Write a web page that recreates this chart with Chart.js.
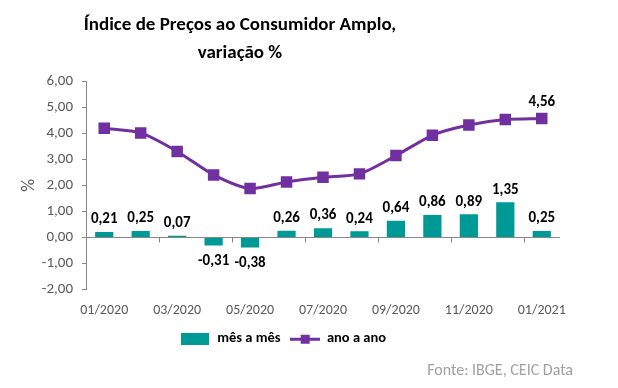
<!DOCTYPE html>
<html>
<head>
<meta charset="utf-8">
<script src="https://cdn.jsdelivr.net/npm/chart.js@4.4.0/dist/chart.umd.min.js"></script>
<style>
  body { margin: 0; background: #fff; }
  #wrap { position: relative; width: 618px; height: 388px; }
  #titulo { position: absolute; left: 40px; width: 400px; top: 10px; text-align: center;
            font-family: "Carlito", "Lato", sans-serif; font-weight: bold; font-size: 19px; line-height: 28px; color: #000; }
  #fonte { position: absolute; right: 45px; top: 360px; font-family: "Carlito", "Lato", sans-serif; font-size: 16px; color: #a0a0a0; }
</style>
</head>
<body>
<div id="wrap">
  <canvas id="ipca" width="618" height="388"></canvas>
  <div id="titulo">Índice de Preços ao Consumidor Amplo,<br>variação %</div>
  <div id="fonte">Fonte: IBGE, CEIC Data</div>
</div>
<script>
'use strict'

const meses = ['01/2020','02/2020','03/2020','04/2020','05/2020','06/2020','07/2020','08/2020','09/2020','10/2020','11/2020','12/2020','01/2021']
const mesAMes = [0.21, 0.25, 0.07, -0.31, -0.38, 0.26, 0.36, 0.24, 0.64, 0.86, 0.89, 1.35, 0.25]
const anoAAno = [4.19, 4.01, 3.30, 2.40, 1.88, 2.13, 2.31, 2.44, 3.14, 3.92, 4.31, 4.52, 4.56]

const verde = '#009a96'
const roxo = '#7030a0'
const fonte = 'Carlito, Lato, sans-serif'
const fmt = v => v.toFixed(2).replace('.', ',')

// legend swatches
const swBar = document.createElement('canvas')
swBar.width = 28; swBar.height = 12
let c = swBar.getContext('2d')
c.fillStyle = verde; c.fillRect(0, 0, 28, 12)

const swLine = document.createElement('canvas')
swLine.width = 30; swLine.height = 12
c = swLine.getContext('2d')
c.fillStyle = roxo
c.fillRect(0, 5, 30, 3)
c.fillRect(11, 2, 9, 9)

const rotulos = {
  id: 'rotulos',
  afterDatasetsDraw(chart) {
    const ctx = chart.ctx
    ctx.save()
    ctx.font = 'bold 15px ' + fonte
    ctx.fillStyle = '#000'
    ctx.textAlign = 'center'
    chart.getDatasetMeta(1).data.forEach((el, i) => {
      const v = mesAMes[i]
      if (v >= 0) {
        ctx.textBaseline = 'bottom'
        ctx.fillText(fmt(v), el.x, el.y - 5)
      } else {
        ctx.textBaseline = 'top'
        ctx.fillText(fmt(v), el.x, el.y + 8)
      }
    })
    const pts = chart.getDatasetMeta(0).data
    const last = pts[pts.length - 1]
    ctx.textBaseline = 'bottom'
    ctx.fillText(fmt(anoAAno[anoAAno.length - 1]), last.x, last.y - 9)
    ctx.restore()
  },
  afterDraw(chart) {
    // small tick marks on the zero line
    const ctx = chart.ctx
    const x = chart.scales.x
    const y0 = chart.scales.y.getPixelForValue(0)
    const half = (x.getPixelForValue(1) - x.getPixelForValue(0)) / 2
    ctx.save()
    ctx.strokeStyle = '#868686'
    ctx.lineWidth = 1
    for (let i = 2; i < meses.length; i += 2) {
      const px = Math.round(x.getPixelForValue(i) - half) + 0.5
      ctx.beginPath(); ctx.moveTo(px, y0); ctx.lineTo(px, y0 + 5); ctx.stroke()
    }
    ctx.restore()
  }
}

const data = {
  labels: meses,
  datasets: [{
    type: 'line',
    label: 'ano a ano',
    data: anoAAno,
    borderColor: roxo,
    backgroundColor: roxo,
    borderWidth: 3,
    tension: 0.25,
    pointStyle: 'rect',
    pointRadius: 6,
    pointHoverRadius: 6,
    order: 0
  },
  {
    type: 'bar',
    label: 'mês a mês',
    data: mesAMes,
    backgroundColor: verde,
    barPercentage: 0.5,
    categoryPercentage: 1,
    order: 1
  }]
}

const config = {
  data: data,
  plugins: [rotulos],
  options: {
    responsive: false,
    animation: false,
    layout: { padding: { top: 81, right: 58, bottom: 32, left: 6 } },
    plugins: {
      title: { display: false },
      tooltip: { enabled: false },
      legend: {
        position: 'bottom',
        reverse: true,
        labels: {
          usePointStyle: true,
          pointStyleWidth: 30,
          color: '#000',
          font: { family: fonte, size: 14.5, weight: 'bold' },
          padding: 9,
          generateLabels(chart) {
            return chart.data.datasets.map((ds, i) => ({
              text: ds.label,
              datasetIndex: i,
              pointStyle: i === 0 ? swLine : swBar,
              fillStyle: ds.backgroundColor,
              strokeStyle: ds.borderColor,
              lineWidth: 0,
              fontColor: '#000',
              hidden: false
            }))
          }
        }
      }
    },
    scales: {
      x: {
        grid: { display: false },
        border: { display: false },
        ticks: {
          autoSkip: false,
          maxRotation: 0,
          color: '#595959',
          font: { family: fonte, size: 14 },
          padding: 4,
          callback: (v, i) => i % 2 === 0 ? meses[i] : ''
        }
      },
      y: {
        min: -2,
        max: 6,
        afterFit: s => { s.width = 80 },
        ticks: {
          stepSize: 1,
          color: '#595959',
          font: { family: fonte, size: 15 },
          padding: 9,
          callback: v => fmt(v)
        },
        border: { display: true, color: '#868686' },
        grid: {
          drawOnChartArea: true,
          tickLength: 4,
          color: ctx => ctx.tick && ctx.tick.value === 0 ? '#868686' : 'rgba(0,0,0,0)',
          tickColor: '#868686'
        },
        title: {
          display: true,
          text: '%',
          color: '#595959',
          font: { family: fonte, size: 18 },
          padding: { top: 13, bottom: 0 }
        }
      }
    }
  }
}

let grafico = new Chart(document.querySelector('#ipca'), config)
</script>
</body>
</html>
